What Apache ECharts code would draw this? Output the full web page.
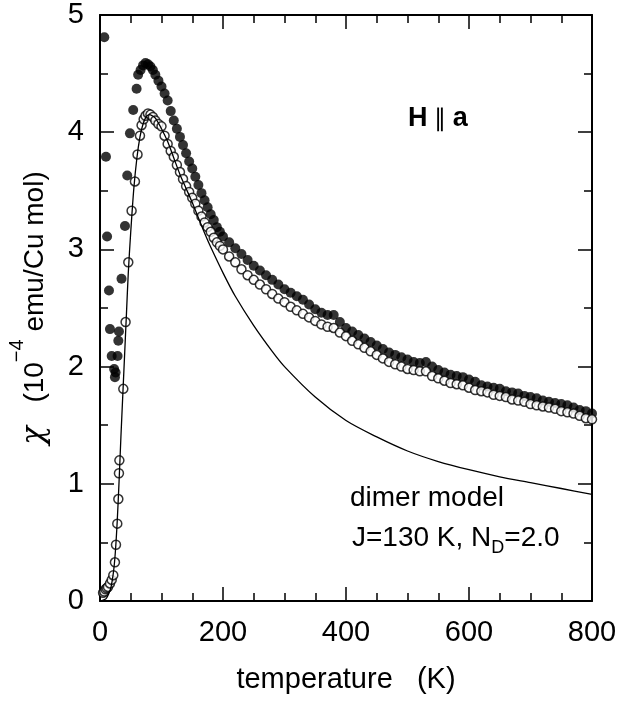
<!DOCTYPE html>
<html>
<head>
<meta charset="utf-8">
<script src="https://cdn.jsdelivr.net/npm/echarts@6/dist/echarts.min.js"></script>
<style>
html,body{margin:0;padding:0;background:#fff;}
#c{width:623px;height:704px;}
</style>
</head>
<body>
<div id="c"></div>
<script>
// ---- data ----
// filled circles (upper data set)
const filledT = [7, 9.7, 11.5, 14.6, 16.2, 19, 23, 24.3, 25.4, 28.6, 29.8, 30.8, 35, 40.6, 44.3, 48.7, 54, 59.5, 62, 66, 70, 74, 78, 82, 86, 90, 95,
  100, 105, 110, 115, 120, 125, 130, 135, 140, 145, 150, 155, 160, 165, 170, 175, 180, 185, 190, 195, 200,
  210, 220, 230, 240, 250, 260, 270, 280, 290, 300, 310, 320, 330, 340, 350, 360, 370, 380, 390, 400,
  410, 420, 430, 440, 450, 460, 470, 480, 490, 500, 510, 520, 530, 540, 550, 560, 570, 580, 590, 600,
  610, 620, 630, 640, 650, 660, 670, 680, 690, 700, 710, 720, 730, 740, 750, 760, 770, 780, 790, 800];
const filledChi = [4.81, 3.79, 3.11, 2.65, 2.32, 2.09, 1.98, 1.91, 1.95, 2.09, 2.22, 2.30, 2.75, 3.20, 3.63, 3.99, 4.19, 4.37, 4.49, 4.53, 4.57, 4.59, 4.58, 4.56, 4.53, 4.49, 4.44,
  4.39, 4.33, 4.27, 4.18, 4.10, 4.03, 3.96, 3.89, 3.82, 3.75, 3.69, 3.62, 3.55, 3.48, 3.42, 3.36, 3.30, 3.25, 3.19, 3.15, 3.11,
  3.06, 3.01, 2.96, 2.91, 2.86, 2.82, 2.78, 2.74, 2.70, 2.66, 2.63, 2.60, 2.57, 2.53, 2.49, 2.46, 2.44, 2.44, 2.38, 2.33,
  2.30, 2.27, 2.24, 2.21, 2.18, 2.15, 2.12, 2.10, 2.08, 2.06, 2.04, 2.03, 2.04, 2.00, 1.97, 1.95, 1.93, 1.92, 1.91, 1.89,
  1.87, 1.84, 1.83, 1.82, 1.81, 1.79, 1.78, 1.77, 1.75, 1.74, 1.73, 1.71, 1.70, 1.69, 1.68, 1.67, 1.65, 1.63, 1.62, 1.60];

// open circles (lower data set)
const openT = [5, 7, 9, 10.8, 13, 16.2, 19, 21.6, 24.3, 26, 28.1, 29.8, 30.8, 31.5, 37.9, 41.6, 46, 51.4, 56.8, 61, 65, 67.6, 71, 74, 78, 82, 86, 90, 95,
  100, 105, 110, 115, 120, 125, 130, 135, 140, 145, 150, 155, 160, 165, 170, 175, 180, 185, 190, 195, 200,
  210, 220, 230, 240, 250, 260, 270, 280, 290, 300, 310, 320, 330, 340, 350, 360, 370, 380, 390, 400,
  410, 420, 430, 440, 450, 460, 470, 480, 490, 500, 510, 520, 530, 540, 550, 560, 570, 580, 590, 600,
  610, 620, 630, 640, 650, 660, 670, 680, 690, 700, 710, 720, 730, 740, 750, 760, 770, 780, 790, 800];
const openChi = [0.07, 0.08, 0.10, 0.11, 0.12, 0.15, 0.18, 0.22, 0.33, 0.48, 0.66, 0.87, 1.09, 1.20, 1.81, 2.38, 2.89, 3.33, 3.58, 3.81, 3.97, 4.06, 4.11, 4.14, 4.16, 4.15, 4.13, 4.10, 4.07,
  4.05, 3.97, 3.90, 3.84, 3.79, 3.72, 3.66, 3.60, 3.54, 3.49, 3.44, 3.39, 3.33, 3.28, 3.23, 3.19, 3.15, 3.10, 3.06, 3.03, 3.00,
  2.94, 2.89, 2.83, 2.78, 2.74, 2.70, 2.66, 2.62, 2.58, 2.55, 2.51, 2.48, 2.45, 2.42, 2.39, 2.36, 2.34, 2.33, 2.29, 2.26,
  2.22, 2.19, 2.16, 2.13, 2.10, 2.07, 2.04, 2.02, 2.00, 1.98, 1.97, 1.96, 1.96, 1.92, 1.90, 1.88, 1.86, 1.85, 1.84, 1.82,
  1.80, 1.79, 1.78, 1.76, 1.75, 1.74, 1.72, 1.71, 1.70, 1.68, 1.67, 1.66, 1.65, 1.64, 1.62, 1.61, 1.60, 1.58, 1.56, 1.55];

// dimer model curve (J=130 K, N_D=2.0)
const modelT = [2, 6, 10, 14, 18, 22, 25, 28, 31, 34, 37, 40, 43, 46, 50, 55, 60, 65, 70, 75, 80, 85, 90,
  100, 110, 120, 130, 140, 150, 160, 170, 180, 200, 220, 250, 280, 300, 350, 400, 450, 500, 550, 600, 650, 700, 750, 800];
const modelChi = [0.0, 0.01, 0.02, 0.06, 0.12, 0.25, 0.42, 0.68, 1.02, 1.40, 1.75, 2.10, 2.45, 2.80, 3.15, 3.52, 3.78, 3.96, 4.07, 4.13, 4.15, 4.14, 4.12,
  4.03, 3.92, 3.78, 3.64, 3.52, 3.40, 3.27, 3.14, 3.02, 2.80, 2.60, 2.35, 2.13, 2.00, 1.74, 1.54, 1.40, 1.28, 1.19, 1.12, 1.06, 1.01, 0.96, 0.91];

const xTicks = [0, 200, 400, 600, 800];
const yTicks = [0, 1, 2, 3, 4, 5];

// ---- chart ----
const FONT = '"Liberation Sans", Arial, Helvetica, sans-serif';
const zip = (a, b) => a.map((v, i) => [v, b[i]]);

const axisCommonX = {
  type: 'value', min: xTicks[0], max: xTicks[xTicks.length - 1], interval: 200,
  splitLine: { show: false },
  axisLine: { show: true, onZero: false, lineStyle: { color: '#000', width: 2 } },
  axisTick: { show: true, inside: true, length: 14, lineStyle: { color: '#000', width: 1.5 } },
  minorTick: { show: true, splitNumber: 4, length: 8, lineStyle: { color: '#000', width: 1.5 } },
};
const axisCommonY = {
  type: 'value', min: yTicks[0], max: yTicks[yTicks.length - 1], interval: 1,
  splitLine: { show: false },
  axisLine: { show: true, onZero: false, lineStyle: { color: '#000', width: 2 } },
  axisTick: { show: true, inside: true, length: 14, lineStyle: { color: '#000', width: 1.5 } },
  minorTick: { show: true, splitNumber: 2, length: 8, lineStyle: { color: '#000', width: 1.5 } },
};

const chart = echarts.init(document.getElementById('c'), null, { renderer: 'canvas' });
chart.setOption({
  backgroundColor: '#fff',
  animation: false,
  grid: { left: 100, right: 31, top: 15, bottom: 103, containLabel: false, outerBoundsMode: 'none' },
  xAxis: [
    Object.assign({}, axisCommonX, {
      position: 'bottom',
      axisLabel: { show: true, fontSize: 29, color: '#000', fontFamily: FONT, margin: 17 },
      name: 'temperature   (K)', nameLocation: 'middle', nameGap: 64,
      nameTextStyle: { fontSize: 29, color: '#000', fontFamily: FONT }
    }),
    Object.assign({}, axisCommonX, { position: 'top', axisLabel: { show: false } })
  ],
  yAxis: [
    Object.assign({}, axisCommonY, {
      position: 'left',
      axisLabel: { show: true, fontSize: 29, color: '#000', fontFamily: FONT, margin: 16 },
      name: '{chi|χ}   {t|(10}{sup|−4}{t| emu/Cu mol)}',
      nameLocation: 'middle', nameRotate: 90, nameGap: 37,
      nameTextStyle: {
        color: '#000', fontFamily: FONT, fontSize: 28,
        rich: {
          chi: { fontSize: 31, fontFamily: '"DejaVu Serif", serif', fontStyle: 'italic', color: '#000', lineHeight: 56 },
          t: { fontSize: 28, fontFamily: FONT, color: '#000', lineHeight: 56 },
          sup: { fontSize: 20, fontFamily: FONT, color: '#000', lineHeight: 20, verticalAlign: 'top' }
        }
      }
    }),
    Object.assign({}, axisCommonY, { position: 'right', axisLabel: { show: false } })
  ],
  series: [
    {
      name: 'filled', type: 'scatter', xAxisIndex: 0, yAxisIndex: 0, z: 2,
      symbol: 'circle', symbolSize: 10,
      itemStyle: { color: '#000' },
      data: zip(filledT, filledChi)
    },
    {
      name: 'open', type: 'scatter', xAxisIndex: 0, yAxisIndex: 0, z: 3,
      symbol: 'circle', symbolSize: 9,
      itemStyle: { color: '#fff', borderColor: '#000', borderWidth: 1.5 },
      data: zip(openT, openChi)
    },
    {
      name: 'dimer model', type: 'line', xAxisIndex: 0, yAxisIndex: 0, z: 4,
      showSymbol: false, smooth: 0.3,
      lineStyle: { color: '#000', width: 1.3 },
      data: zip(modelT, modelChi)
    }
  ],
  graphic: [
    {
      type: 'text', x: 408, y: 119, z: 10,
      style: {
        text: '{h|H}  {p|∥}  {a|a}',
        verticalAlign: 'middle', align: 'left',
        rich: {
          h: { fontSize: 27, fontWeight: 'bold', fontFamily: FONT, fill: '#000' },
          p: { fontSize: 24, fontFamily: FONT, fill: '#000' },
          a: { fontSize: 27, fontWeight: 'bold', fontFamily: FONT, fill: '#000' }
        }
      }
    },
    {
      type: 'text', x: 350, y: 498, z: 10,
      style: { text: 'dimer model', font: '28px ' + FONT, fill: '#000', verticalAlign: 'middle', align: 'left' }
    },
    {
      type: 'text', x: 352, y: 538, z: 10,
      style: {
        text: '{m|J=130 K, N}{s|D}{m|=2.0}',
        verticalAlign: 'middle', align: 'left',
        rich: {
          m: { fontSize: 28, fontFamily: FONT, fill: '#000', lineHeight: 38 },
          s: { fontSize: 18, fontFamily: FONT, fill: '#000', lineHeight: 18, verticalAlign: 'bottom' }
        }
      }
    }
  ]
});
</script>
</body>
</html>
